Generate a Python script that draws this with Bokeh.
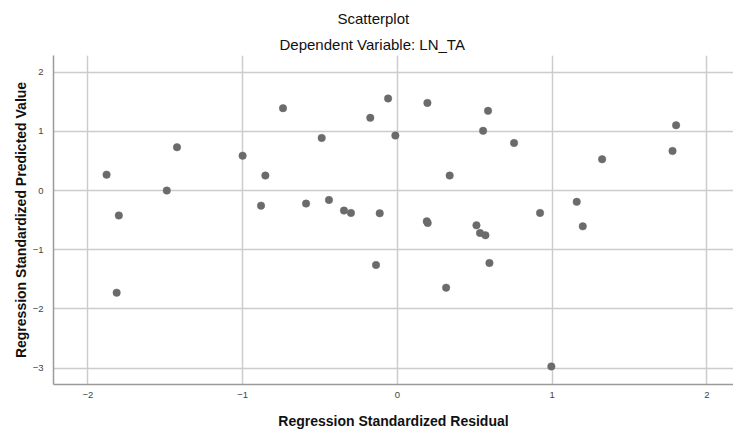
from bokeh.plotting import figure
from bokeh.models import Range1d, Title, FixedTicker, ColumnDataSource
from bokeh.embed import file_html
from bokeh.resources import INLINE

# Regression standardized residual (x) vs standardized predicted value (y)
residual = [-1.879, -1.800, -1.814, -1.490, -1.424, -1.000, -0.853, -0.881,
            -0.739, -0.590, -0.489, -0.442, -0.345, -0.300, -0.175, -0.114,
            -0.138, -0.060, -0.013, 0.194, 0.586, 0.554, 0.754, 0.338,
            1.801, 1.778, 1.323, 1.159, 0.922, 0.190, 0.196, 0.511,
            0.534, 0.569, 0.595, 0.315, 1.198, 0.995]
predicted = [0.270, -0.420, -1.726, 0.000, 0.733, 0.590, 0.254, -0.254,
             1.393, -0.220, 0.891, -0.158, -0.338, -0.378, 1.230, -0.383,
             -1.257, 1.557, 0.930, 1.483, 1.348, 1.010, 0.806, 0.254,
             1.105, 0.671, 0.530, -0.190, -0.377, -0.520, -0.547, -0.587,
             -0.716, -0.756, -1.224, -1.641, -0.604, -2.973]
x_ticks = [-2, -1, 0, 1, 2]
y_ticks = [-3, -2, -1, 0, 1, 2]
title_text = "Scatterplot"
subtitle_text = "Dependent Variable: LN_TA"
x_label = "Regression Standardized Residual"
y_label = "Regression Standardized Predicted Value"

W, H = 733, 432
BL, BR, BT, BB = 53, 0, 55, 48
p = figure(width=W, height=H, output_backend="svg", toolbar_location=None,
           x_range=Range1d(-2.222, 2.172), y_range=Range1d(-3.278, 2.284),
           min_border_left=BL, min_border_right=BR, min_border_top=BT,
           min_border_bottom=BB)
p.outline_line_color = None
p.background_fill_color = "white"

src = ColumnDataSource(dict(x=residual, y=predicted))
p.scatter("x", "y", source=src, size=7.5, fill_color="#6b6b6b",
          line_color="#6b6b6b", line_width=0.5)

for ax in (p.xaxis, p.yaxis):
    ax.axis_line_color = "#9a9a9a"
    ax.axis_line_width = 1.5
    ax.major_tick_line_color = None
    ax.minor_tick_line_color = None
    ax.major_tick_out = 0
    ax.major_tick_in = 0
    ax.minor_tick_out = 0
    ax.minor_tick_in = 0
    ax.major_label_text_font = "Liberation Sans"
    ax.major_label_text_font_size = "9.5px"
    ax.major_label_text_color = "#444444"
    ax.axis_label_text_font = "Liberation Sans"
    ax.axis_label_text_font_size = "14px"
    ax.axis_label_text_font_style = "bold"
    ax.axis_label_text_color = "#111111"

p.xaxis.ticker = FixedTicker(ticks=x_ticks)
p.yaxis.ticker = FixedTicker(ticks=y_ticks)
p.xaxis.major_label_standoff = 7
p.yaxis.major_label_standoff = 10
p.xaxis.axis_label = x_label
p.yaxis.axis_label = y_label
p.xaxis.axis_label_standoff = 12
p.yaxis.axis_label_standoff = 1

p.xgrid.grid_line_color = "#cccccc"
p.ygrid.grid_line_color = "#cccccc"
p.xgrid.grid_line_width = 1.5
p.ygrid.grid_line_width = 1.5

# subtitle first (closest to the frame), then main title above it
p.add_layout(Title(text=subtitle_text, align="left", offset=279 - BL, standoff=5,
                   text_font="Liberation Sans", text_font_size="15px",
                   text_font_style="normal", text_color="#111111"), "above")
p.add_layout(Title(text=title_text, align="left", offset=337 - BL, standoff=9,
                   text_font="Liberation Sans", text_font_size="15px",
                   text_font_style="normal", text_color="#111111"), "above")

open("out.html", "w").write(file_html(p, INLINE))
